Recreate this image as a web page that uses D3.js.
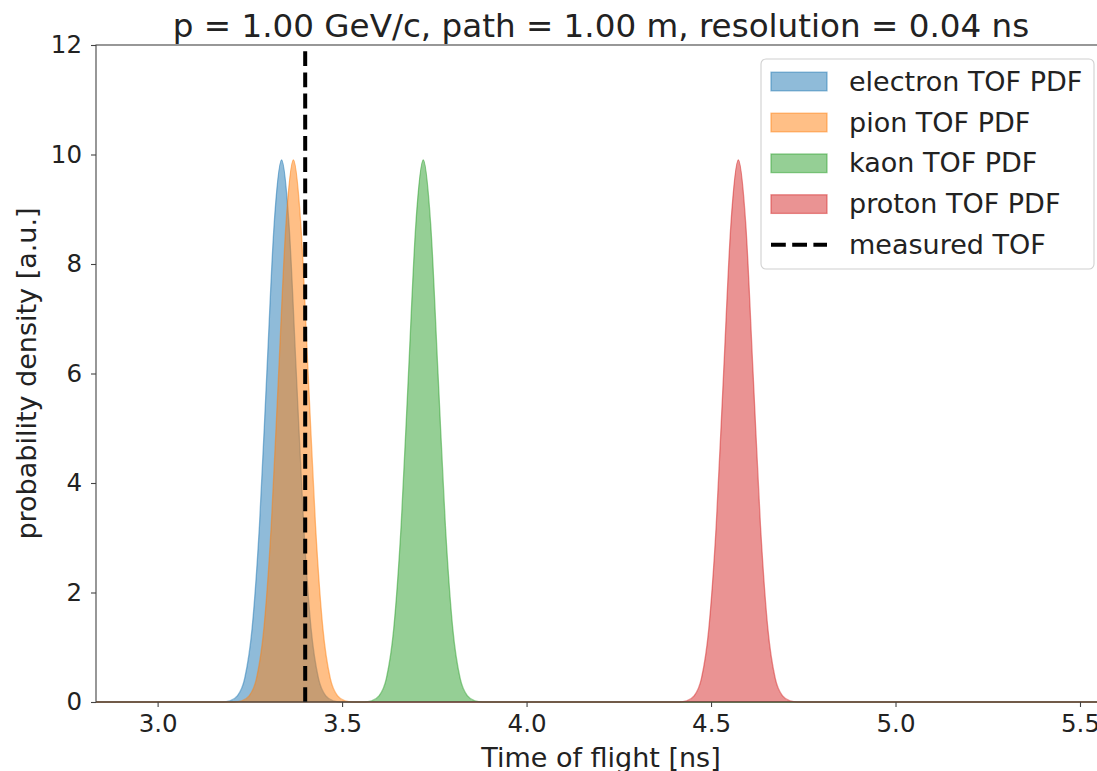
<!DOCTYPE html>
<html>
<head>
<meta charset="utf-8">
<script src="https://cdn.jsdelivr.net/npm/d3@7"></script>
<style>
    body { margin: 0; background: #fff; overflow: hidden; }
    text { font-family: "DejaVu Sans", sans-serif; fill: #222; }
</style>
</head>
<body>
<script>
// tof pdfs (time in ns, density in a.u.)
var electronTime = [2.833, 3.176, 3.196, 3.216, 3.236, 3.256, 3.276, 3.296, 3.316, 3.336, 3.356, 3.376, 3.396, 3.416, 3.436, 3.456, 3.476, 3.496, 5.574];
var electronPdf  = [0, 0, 0.02, 0.11, 0.43, 1.34, 3.22, 6.00, 8.74, 9.90, 8.74, 6.00, 3.22, 1.34, 0.43, 0.11, 0.02, 0, 0];

var pionTime = [2.833, 3.208, 3.228, 3.248, 3.268, 3.288, 3.308, 3.328, 3.348, 3.368, 3.388, 3.408, 3.428, 3.448, 3.468, 3.488, 3.508, 3.528, 5.574];
var pionPdf  = [0, 0, 0.02, 0.11, 0.43, 1.34, 3.22, 6.00, 8.74, 9.90, 8.74, 6.00, 3.22, 1.34, 0.43, 0.11, 0.02, 0, 0];

var kaonTime = [2.833, 3.560, 3.580, 3.600, 3.620, 3.640, 3.660, 3.680, 3.700, 3.720, 3.740, 3.760, 3.780, 3.800, 3.820, 3.840, 3.860, 3.880, 5.574];
var kaonPdf  = [0, 0, 0.02, 0.11, 0.43, 1.34, 3.22, 6.00, 8.74, 9.90, 8.74, 6.00, 3.22, 1.34, 0.43, 0.11, 0.02, 0, 0];

var protonTime = [2.833, 4.414, 4.434, 4.454, 4.474, 4.494, 4.514, 4.534, 4.554, 4.574, 4.594, 4.614, 4.634, 4.654, 4.674, 4.694, 4.714, 4.734, 5.574];
var protonPdf  = [0, 0, 0.02, 0.11, 0.43, 1.34, 3.22, 6.00, 8.74, 9.90, 8.74, 6.00, 3.22, 1.34, 0.43, 0.11, 0.02, 0, 0];

var measuredTof = 3.40;

var xTicks = [3.0, 3.5, 4.0, 4.5, 5.0, 5.5];
var yTicks = [0, 2, 4, 6, 8, 10, 12];

var seriesNames = ["electron TOF PDF", "pion TOF PDF", "kaon TOF PDF", "proton TOF PDF"];
var seriesColors = ["#1f77b4", "#ff7f0e", "#2ca02c", "#d62728"];
var measuredName = "measured TOF";

var titleText = "p = 1.00 GeV/c, path = 1.00 m, resolution = 0.04 ns";
var xLabel = "Time of flight [ns]";
var yLabel = "probability density [a.u.]";

function drawChart () {
    var width = 1097,
        height = 771;
    var left = 96, top = 45, right = 1106, bottom = 702;

    var svg = d3.select("body").append("svg")
        .attr("width", width)
        .attr("height", height);

    var x = d3.scaleLinear().domain([2.833, 5.5705]).range([left, right]);
    var y = d3.scaleLinear().domain([0, 12]).range([bottom, top]);

    // build the series from the arrays
    var series = [
        {"time": electronTime, "pdf": electronPdf},
        {"time": pionTime, "pdf": pionPdf},
        {"time": kaonTime, "pdf": kaonPdf},
        {"time": protonTime, "pdf": protonPdf}
    ];

    var area = d3.area()
        .x(function (d) { return x(d[0]); })
        .y0(y(0))
        .y1(function (d) { return y(d[1]); })
        .curve(d3.curveMonotoneX);

    var line = d3.line()
        .x(function (d) { return x(d[0]); })
        .y(function (d) { return y(d[1]); })
        .curve(d3.curveMonotoneX);

    var plot = svg.append("g").attr("class", "pdfs");
    for (i = 0; i < series.length; i = i + 1) {
        var pts = d3.zip(series[i].time, series[i].pdf);
        plot.append("path")
            .attr("d", area(pts))
            .attr("fill", seriesColors[i])
            .attr("fill-opacity", 0.5);
        plot.append("path")
            .attr("d", line(pts))
            .attr("fill", "none")
            .attr("stroke", seriesColors[i])
            .attr("stroke-opacity", 0.5)
            .attr("stroke-width", 1.3);
    }

    // measured tof, drawn bottom to top like axvline
    svg.append("line")
        .attr("x1", x(measuredTof)).attr("x2", x(measuredTof))
        .attr("y1", y(0)).attr("y2", y(12))
        .attr("stroke", "#000")
        .attr("stroke-width", 4)
        .attr("stroke-dasharray", "14.8,6.4");

    // axes
    var xAxis = d3.axisBottom(x).tickValues(xTicks).tickSize(5).tickPadding(8)
        .tickFormat(d3.format(".1f"));
    var yAxis = d3.axisLeft(y).tickValues(yTicks).tickSize(5).tickPadding(9)
        .tickFormat(d3.format("d"));

    var gx = svg.append("g").attr("transform", "translate(0," + bottom + ")").call(xAxis);
    var gy = svg.append("g").attr("transform", "translate(" + left + ",0)").call(yAxis);
    [gx, gy].forEach(function (g) {
        g.select(".domain").remove();
        g.selectAll(".tick line").attr("stroke", "#444").attr("stroke-width", 1.1);
        g.selectAll(".tick text").attr("font-size", "24.5px").attr("fill", "#222");
    });

    // spines
    svg.append("rect")
        .attr("x", left).attr("y", top)
        .attr("width", right - left).attr("height", bottom - top)
        .attr("fill", "none")
        .attr("stroke", "#444")
        .attr("stroke-width", 1.1);

    // title and labels
    svg.append("text")
        .attr("x", (left + right) / 2).attr("y", 37)
        .attr("text-anchor", "middle")
        .attr("font-size", "32.6px")
        .text(titleText);
    svg.append("text")
        .attr("x", (left + right) / 2).attr("y", 767)
        .attr("text-anchor", "middle")
        .attr("font-size", "27px")
        .text(xLabel);
    svg.append("text")
        .attr("transform", "translate(36," + ((top + bottom) / 2) + ") rotate(-90)")
        .attr("text-anchor", "middle")
        .attr("font-size", "27px")
        .text(yLabel);

    // legend
    var legend = svg.append("g").attr("class", "legend");
    legend.append("rect")
        .attr("x", 761).attr("y", 59)
        .attr("width", 333).attr("height", 210)
        .attr("rx", 5)
        .attr("fill", "#fff").attr("fill-opacity", 0.8)
        .attr("stroke", "#d0d0d0").attr("stroke-width", 1.1);

    var rowY = [81.5, 122.5, 163.3, 204.1, 244.8];
    for (i = 0; i < seriesNames.length; i = i + 1) {
        legend.append("rect")
            .attr("x", 771).attr("y", rowY[i] - 9.3)
            .attr("width", 56).attr("height", 18.6)
            .attr("fill", seriesColors[i]).attr("fill-opacity", 0.5)
            .attr("stroke", seriesColors[i]).attr("stroke-opacity", 0.5)
            .attr("stroke-width", 1.3);
        legend.append("text")
            .attr("x", 849).attr("y", rowY[i] + 9)
            .attr("font-size", "27px")
            .text(seriesNames[i]);
    }
    legend.append("line")
        .attr("x1", 771).attr("x2", 827)
        .attr("y1", rowY[4]).attr("y2", rowY[4])
        .attr("stroke", "#000").attr("stroke-width", 4)
        .attr("stroke-dasharray", "14.8,6.4");
    legend.append("text")
        .attr("x", 849).attr("y", rowY[4] + 9)
        .attr("font-size", "27px")
        .text(measuredName);
}

drawChart();
</script>
</body>
</html>
